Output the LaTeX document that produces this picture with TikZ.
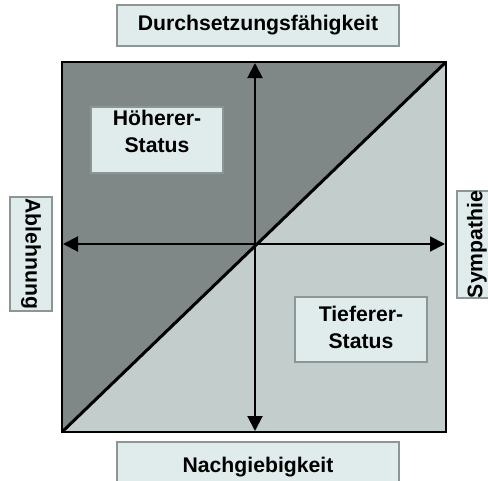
\documentclass[tikz,border=0pt]{standalone}
\usepackage{fontspec}
\setmainfont{Liberation Sans}
\usetikzlibrary{arrows.meta,positioning}
\definecolor{QDark}{HTML}{808887}
\definecolor{QLight}{HTML}{C3CDCC}
\definecolor{QBox}{HTML}{E0ECEC}
\definecolor{QFrame}{HTML}{8C9695}
\begin{document}
\begin{tikzpicture}[x=1pt,y=-1pt,>={Triangle[length=15pt,width=15pt]}]
\tikzset{lbox/.style={draw=QFrame,fill=QBox,line width=2pt,inner sep=0pt,align=center,font=\fontsize{21.2}{26.5}\selectfont\bfseries},axline/.style={->,line width=2pt,black}}
\useasboundingbox (0,0) rectangle (488,480);
% square and its two halves
\coordinate (sw) at (62,432);\coordinate (ne) at (446,62);
\coordinate (nw) at (62,62);\coordinate (se) at (446,432);
\coordinate (c) at (255,244);
\coordinate (top) at (255,63);\coordinate (bot) at (255,431);
\coordinate (lft) at (63,244);\coordinate (rgt) at (445,244);
\fill[QDark] (sw) -- (nw) -- (ne) -- cycle;
\fill[QLight] (sw) -- (se) -- (ne) -- cycle;
\draw[line width=3pt] (sw) -- (ne);
\draw[line width=2pt] (nw) rectangle (se);
\draw[axline] (c) -- (top);
\draw[axline] (c) -- (bot);
\draw[axline] (c) -- (lft);
\draw[axline] (c) -- (rgt);
% labels
\node[lbox,minimum width=282pt,minimum height=41pt] (durch) at (258,25.5) {Durchsetzungsfähigkeit};
\node[lbox,minimum width=282pt,minimum height=50pt] (nach) at (258,467) {Nachgiebigkeit};
\node[lbox,minimum width=114pt,minimum height=42pt,rotate=-90] (ableh) at (31,254) {Ablehnung};
\node[lbox,minimum width=105pt,minimum height=40pt,rotate=90] (symp) at (477,244.5) {Sympathie};
\node[lbox,minimum width=132pt,minimum height=66pt] (hoeher) at (157,140) {Höherer-\\Status\\[-9.5pt]\mbox{}};
\node[lbox,minimum width=132pt,minimum height=65pt] (tiefer) at (361,329.5) {Tieferer-\\Status\\[-22.5pt]\mbox{}};
\end{tikzpicture}
\end{document}
